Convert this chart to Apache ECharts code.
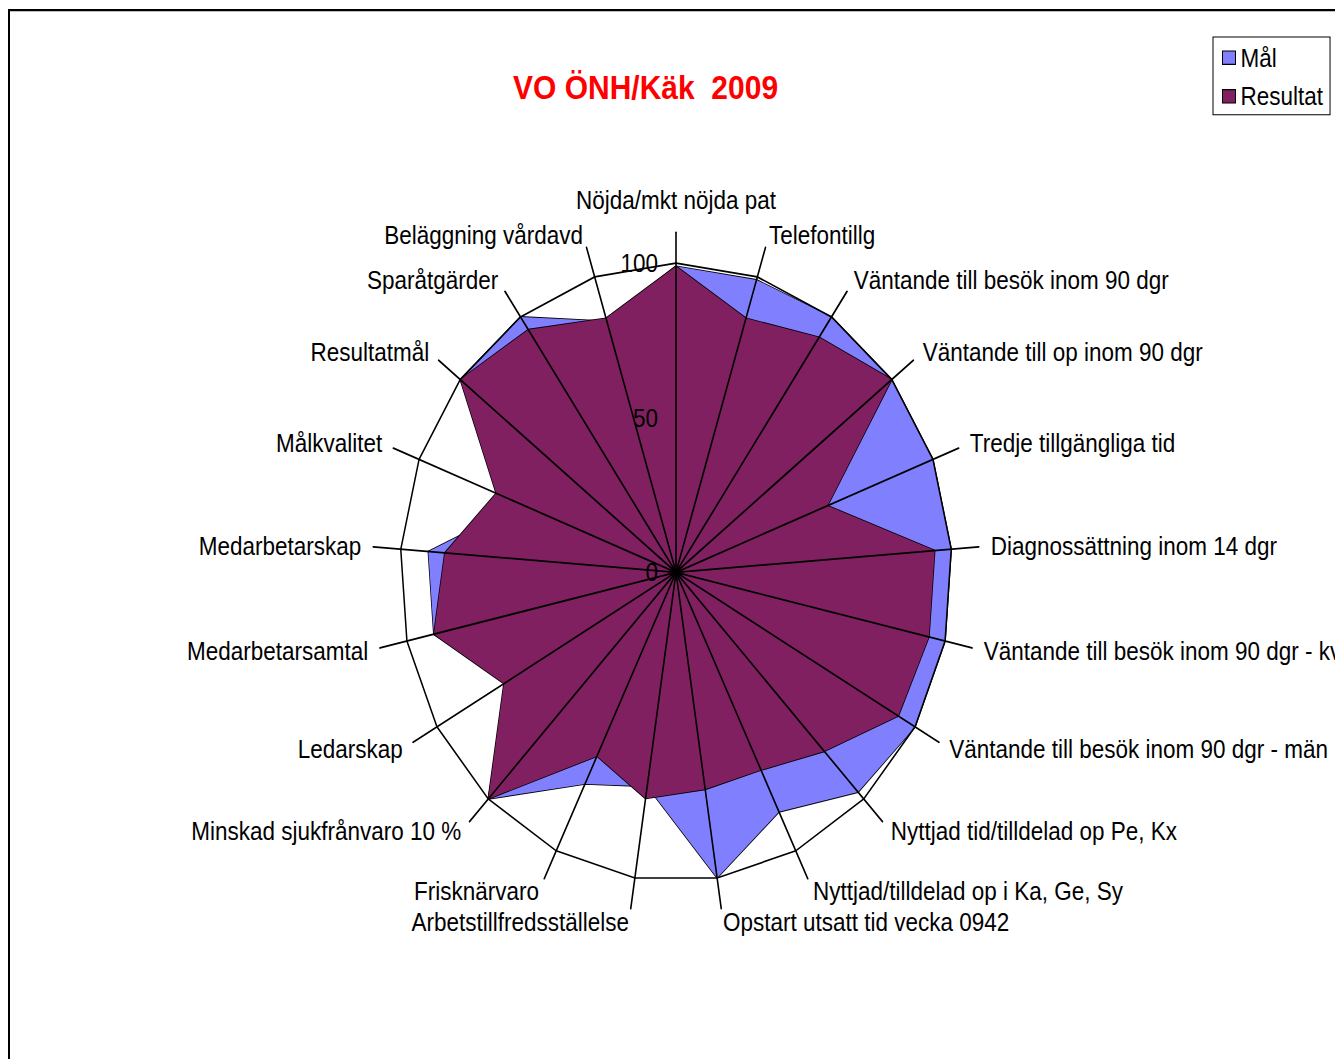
<!DOCTYPE html>
<html>
<head>
<meta charset="utf-8">
<script src="https://cdn.jsdelivr.net/npm/echarts@6/dist/echarts.min.js"></script>
<style>
html { overflow: hidden; }
html, body { margin: 0; padding: 0; background: #fff; width: 1335px; height: 1059px; }
/* originalbilden är sträckt på höjden, därav scaleY */
#main { width: 1335px; height: 946px; transform: scaleY(1.12); transform-origin: 0 0; }
</style>
</head>
<body>
<div id="main"></div>
<script>
var kategorier = [
    'Nöjda/mkt nöjda pat',
    'Telefontillg',
    'Väntande till besök inom 90 dgr',
    'Väntande till op inom 90 dgr',
    'Tredje tillgängliga tid',
    'Diagnossättning inom 14 dgr',
    'Väntande till besök inom 90 dgr - kv',
    'Väntande till besök inom 90 dgr - män',
    'Nyttjad tid/tilldelad op Pe, Kx',
    'Nyttjad/tilldelad op i Ka, Ge, Sy',
    'Opstart utsatt tid vecka 0942',
    'Arbetstillfredsställelse',
    'Frisknärvaro',
    'Minskad sjukfrånvaro 10 %',
    'Ledarskap',
    'Medarbetarsamtal',
    'Medarbetarskap',
    'Målkvalitet',
    'Resultatmål',
    'Sparåtgärder',
    'Beläggning vårdavd'
];
var mal      = [99, 99, 100, 100, 100, 100, 100, 100, 97, 86, 100, 70, 76, 100, 70, 90, 90, 60, 100, 100, 85];
var resultat = [99, 86,  92, 100,  59,  94,  94,  93, 79, 71,  71, 74, 66, 100, 72, 90, 84, 70, 100,  95, 86];
var skalEtiketter = [0, 50, 100];

var font = 'Liberation Sans, Arial, sans-serif';

// echarts lägger axlarna moturs, Excel medurs -> vänd ordningen (första axeln kvar överst)
var ordning = kategorier.map(function (_, i) { return (kategorier.length - i) % kategorier.length; });
function ordna(arr) { return ordning.map(function (i) { return arr[i]; }); }

var indikatorer = ordna(kategorier).map(function (namn, i) {
    var ind = {name: namn, min: 0, max: 110};
    if (i === 0) {
        ind.axisLabel = {show: true};
        ind.nameGap = 17;
    }
    return ind;
});

// bara ringen vid 100 syns
var ringFarger = [];
for (var r = 0; r <= 11; r++) ringFarger.push(r === 10 ? '#000' : 'rgba(0,0,0,0)');

var option = {
    backgroundColor: '#fff',
    animation: false,
    title: {
        text: 'VO ÖNH/Käk  2009',
        left: 508,
        top: 58,
        textStyle: {color: '#ff0000', fontSize: 30, fontWeight: 'bold', fontFamily: font}
    },
    legend: {
        data: ['Mål', 'Resultat'],
        orient: 'vertical',
        left: 1213,
        top: 33,
        padding: [7, 7, 5, 9],
        itemGap: 11.5,
        itemWidth: 13,
        itemHeight: 12,
        icon: 'rect',
        borderColor: '#000',
        borderWidth: 1,
        itemStyle: {borderColor: '#000', borderWidth: 1},
        textStyle: {color: '#000', fontSize: 22.5, fontFamily: font}
    },
    graphic: [{
        type: 'rect',
        shape: {x: 9, y: 9, width: 2000, height: 2000},
        style: {fill: 'none', stroke: '#000', lineWidth: 2},
        silent: true
    }],
    radar: {
        z: 3, // ekrar och etiketter ovanpå ytorna
        center: [676, 511],
        radius: 303.6,
        startAngle: 90,
        splitNumber: 11,
        shape: 'polygon',
        indicator: indikatorer,
        axisName: {color: '#000', fontSize: 22.5, fontFamily: font},
        nameGap: 12,
        axisLine: {lineStyle: {color: '#000', width: 1.6}},
        splitLine: {lineStyle: {color: ringFarger, width: 1.5}},
        splitArea: {show: false},
        axisTick: {show: false},
        axisLabel: {
            show: false,
            margin: 18,
            color: '#000',
            fontSize: 22.5,
            fontFamily: font,
            showMinLabel: true,
            formatter: function (v) { return skalEtiketter.indexOf(v) >= 0 ? String(v) : ''; }
        }
    },
    series: [{
        type: 'radar',
        symbol: 'none',
        data: [
            {name: 'Mål', value: ordna(mal),
             itemStyle: {color: '#8080ff'},
             lineStyle: {color: '#000', width: 1.5},
             areaStyle: {color: '#8080ff', opacity: 1}},
            {name: 'Resultat', value: ordna(resultat),
             itemStyle: {color: '#802060'},
             lineStyle: {color: '#000', width: 1.5},
             areaStyle: {color: '#802060', opacity: 1}}
        ]
    }]
};

var myChart = echarts.init(document.getElementById('main'), null, {renderer: 'svg'});
myChart.setOption(option);
</script>
</body>
</html>
